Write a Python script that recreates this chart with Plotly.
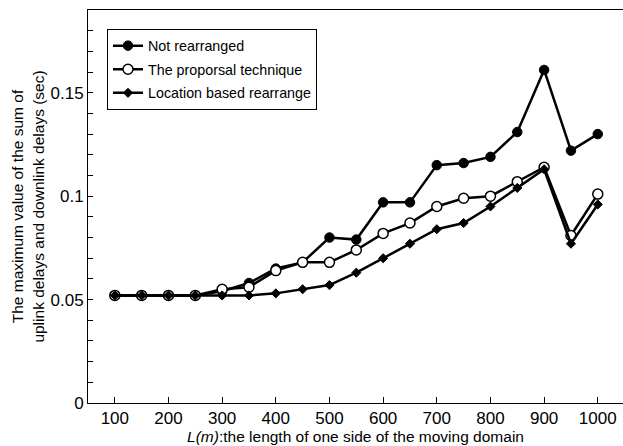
import plotly.graph_objects as go

L = [100, 150, 200, 250, 300, 350, 400, 450, 500, 550, 600, 650, 700, 750, 800, 850, 900, 950, 1000]
not_rearranged = [0.052, 0.052, 0.052, 0.052, 0.054, 0.058, 0.065, 0.068, 0.080, 0.079, 0.097, 0.097,
                  0.115, 0.116, 0.119, 0.131, 0.161, 0.122, 0.130]
proposal = [0.052, 0.052, 0.052, 0.052, 0.055, 0.056, 0.064, 0.068, 0.068, 0.074, 0.082, 0.087,
            0.095, 0.099, 0.100, 0.107, 0.114, 0.081, 0.101]
location = [0.052, 0.052, 0.052, 0.052, 0.052, 0.052, 0.053, 0.055, 0.057, 0.063, 0.070, 0.077,
            0.084, 0.087, 0.095, 0.104, 0.113, 0.077, 0.096]
names = ["Not rearranged", "The proporsal technique", "Location based rearrange"]
x_ticks = [100, 200, 300, 400, 500, 600, 700, 800, 900, 1000]

FONT = "Liberation Sans, Arial, sans-serif"

fig = go.Figure()
fig.add_trace(go.Scatter(x=L, y=not_rearranged, name=names[0], mode="lines+markers",
                         line=dict(color="black", width=2.5),
                         marker=dict(symbol="circle", size=9.5, color="black",
                                     line=dict(color="black", width=1)),
                         legendgroup="a"))
fig.add_trace(go.Scatter(x=L, y=proposal, name=names[1], mode="lines+markers",
                         line=dict(color="black", width=2.5),
                         marker=dict(symbol="circle", size=10, color="white",
                                     line=dict(color="black", width=1.5)),
                         legendgroup="b"))
fig.add_trace(go.Scatter(x=L, y=location, name=names[2], mode="lines+markers",
                         line=dict(color="black", width=2.5),
                         marker=dict(symbol="diamond", size=7, color="black",
                                     line=dict(color="black", width=1)),
                         legendgroup="c"))

fig.update_layout(
    width=623, height=446,
    margin=dict(l=88, r=0, t=10, b=43),
    paper_bgcolor="white", plot_bgcolor="white",
    font=dict(family=FONT, size=17, color="black"),
    showlegend=True,
    legend=dict(x=0.0355, y=0.952, xanchor="left", yanchor="top",
                bgcolor="white", bordercolor="black", borderwidth=1,
                font=dict(size=14.3, family=FONT), traceorder="grouped",
                tracegroupgap=2),
    xaxis=dict(range=[50, 1047], tickvals=x_ticks, ticks="inside", ticklen=6,
               tickcolor="black", showline=True, linecolor="black", linewidth=1,
               mirror=True, showgrid=False, zeroline=False, automargin=False,
               tickfont=dict(size=17),
               title=dict(text="<i>L(m)</i>:the length of one side of the moving domain",
                          font=dict(size=15.5), standoff=0)),
    yaxis=dict(range=[0, 0.19], dtick=0.05, tick0=0, ticks="inside", ticklen=5,
               tickcolor="black", showline=True, linecolor="black", linewidth=1,
               showgrid=False, zeroline=False, automargin=False, tickfont=dict(size=17),
               minor=dict(dtick=0.01, ticks="inside", ticklen=5, tickcolor="black",
                          showgrid=False),
               title=dict(text="The maximum value of the sum of<br>uplink delays and downlink delays (sec)",
                          font=dict(size=15.5), standoff=2)),
)

fig.write_html("out.html", config={"displayModeBar": False},
               post_script="document.body.style.margin='0';document.body.style.padding='0';")
